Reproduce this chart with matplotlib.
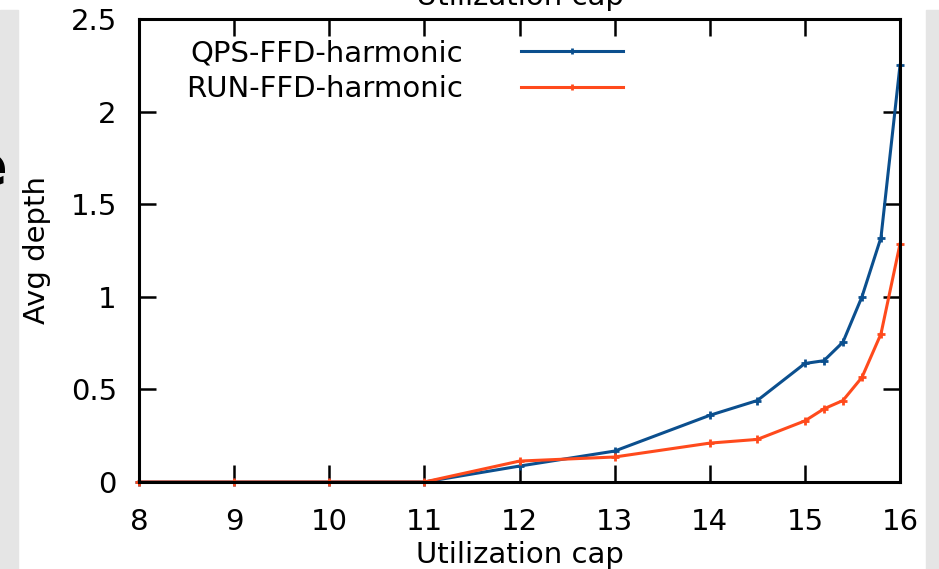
import matplotlib.pyplot as plt
from matplotlib.patches import Rectangle

# Avg depth vs utilization cap
util_cap = [8, 9, 10, 11, 12, 13, 14, 14.5, 15, 15.2, 15.4, 15.6, 15.8, 16]
qps_depth = [0, 0, 0, 0, 0.086, 0.167, 0.36, 0.44, 0.64, 0.655, 0.755, 1.0, 1.32, 2.25]
run_depth = [0, 0, 0, 0, 0.113, 0.135, 0.21, 0.23, 0.33, 0.395, 0.44, 0.565, 0.80, 1.285]

x_ticks = [8, 9, 10, 11, 12, 13, 14, 15, 16]
y_ticks = [0, 0.5, 1, 1.5, 2, 2.5]
y_tick_labels = ["0", "0.5", "1", "1.5", "2", "2.5"]

blue = "#0b4f8e"
red = "#ff4a1c"
fs = 21

W, H = 939, 569
fig = plt.figure(figsize=(W / 100, H / 100), dpi=100)

# grey slide edges around the cropped figure
fig.patches.append(Rectangle((0, 0), 18 / W, 1 - 10 / H, transform=fig.transFigure,
                             color="#e5e5e5", zorder=0))
fig.patches.append(Rectangle((926 / W, 0), 13 / W, 1 - 10 / H, transform=fig.transFigure,
                             color="#e5e5e5", zorder=0))

ax = fig.add_axes([139 / W, 1 - 482 / H, (900 - 139) / W, (482 - 19) / H])

ax.plot(util_cap, qps_depth, color=blue, lw=2.2, marker="+", ms=6, mew=2,
        label="QPS-FFD-harmonic", clip_on=False)
ax.plot(util_cap, run_depth, color=red, lw=2.2, marker="+", ms=6, mew=2,
        label="RUN-FFD-harmonic", clip_on=False)

ax.set_xlim(8, 16)
ax.set_ylim(0, 2.5)
ax.set_xticks(x_ticks)
ax.set_yticks(y_ticks)
ax.set_yticklabels(y_tick_labels)
ax.tick_params(direction="in", length=12, width=1.8, labelsize=fs,
               top=True, right=True)
ax.tick_params(axis="x", pad=19)
ax.tick_params(axis="y", pad=16)
for sp in ax.spines.values():
    sp.set_linewidth(2.2)
    sp.set_zorder(3)

ax.set_xlabel("Utilization cap", fontsize=fs, labelpad=3)
ax.set_ylabel("Avg depth", fontsize=fs, labelpad=14)

ax.legend(loc="upper left", bbox_to_anchor=(0.035, 1.0), frameon=False, fontsize=fs,
          markerfirst=False, handlelength=3.5, handletextpad=2.0,
          labelspacing=0.25, markerscale=0.8, borderaxespad=0.3)

# partially cropped title and letter at the edges of the screenshot
fig.text(520 / W, 1 - 5 / H, "Utilization cap", fontsize=fs, ha="center", va="baseline")
fig.text(7 / W, 1 - 169 / H, "e", fontsize=40, fontweight="bold", ha="right", va="center")

fig.savefig("out.png", dpi=100)
